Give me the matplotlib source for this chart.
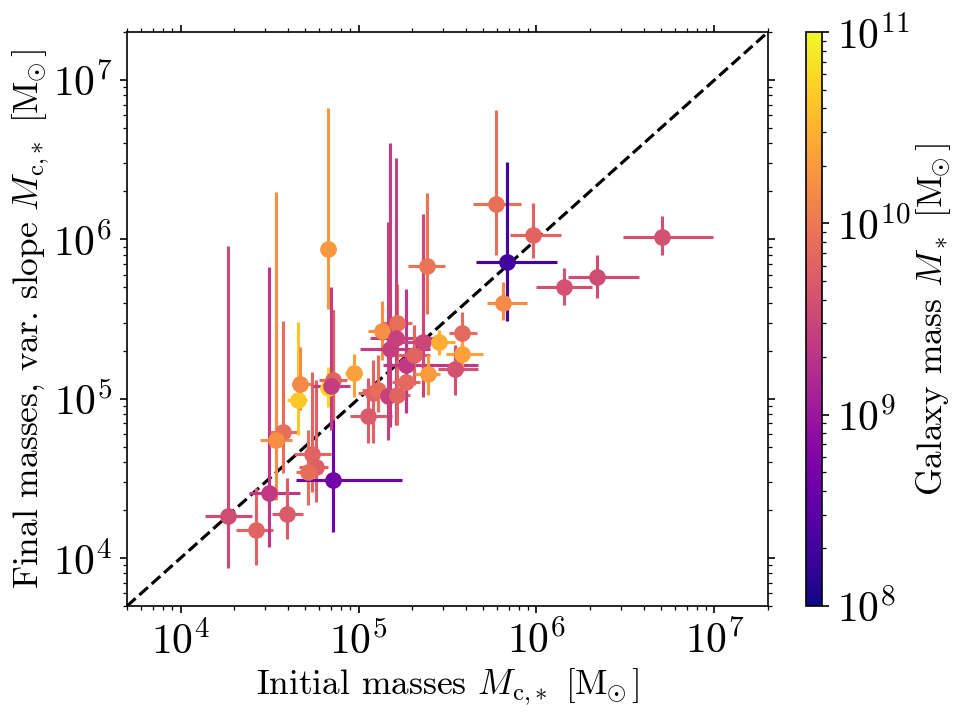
import numpy as np
import matplotlib
matplotlib.use("Agg")
import matplotlib.pyplot as plt
from matplotlib.colors import LogNorm
from matplotlib.cm import ScalarMappable
from matplotlib.ticker import LogLocator

plt.rcParams.update({
    "font.family": "serif",
    "font.serif": ["cmr10"],
    "mathtext.fontset": "cm",
    "axes.formatter.use_mathtext": True,
    "font.size": 20,
})

# Initial cluster masses (x) with lower / upper bounds
m_init = [1.84e4, 2.65e4, 3.15e4, 3.94e4, 3.77e4, 3.44e4, 4.54e4, 4.69e4, 5.5e4, 5.74e4,
          5.22e4, 7.21e4, 6.76e4, 6.78e4, 7.15e4, 7.0e4, 9.42e4, 1.13e5, 1.21e5, 1.29e5,
          1.35e5, 1.65e5, 1.5e5, 1.62e5, 1.46e5, 1.64e5, 1.86e5, 1.86e5, 2.05e5, 2.29e5,
          2.46e5, 2.43e5, 2.85e5, 3.83e5, 3.83e5, 3.48e5, 6.5e5, 5.89e5, 6.85e5, 9.58e5,
          1.43e6, 2.18e6, 5.08e6]
m_init_lo = [1.37e4, 2.04e4, 2.42e4, 3.25e4, 3.18e4, 2.79e4, 3.96e4, 4.21e4, 4.34e4, 4.63e4,
             4.45e4, 4.45e4, 6.15e4, 6.23e4, 6.0e4, 5.54e4, 8.39e4, 8.95e4, 9.93e4, 1.04e5,
             1.13e5, 1.37e5, 1.02e5, 1.16e5, 1.19e5, 1.35e5, 1.54e5, 1.37e5, 1.66e5, 1.71e5,
             2.07e5, 1.9e5, 2.36e5, 3.23e5, 3.1e5, 2.79e5, 5.28e5, 4.41e5, 4.57e5, 7.09e5,
             9.93e5, 1.51e6, 3.07e6]
m_init_hi = [2.51e4, 3.32e4, 4.69e4, 4.89e4, 4.57e4, 4.23e4, 5.13e4, 5.45e4, 7.0e4, 6.73e4,
             6.23e4, 1.76e5, 7.46e4, 7.46e4, 8.57e4, 8.95e4, 1.04e5, 1.54e5, 1.54e5, 1.6e5,
             1.6e5, 2.0e5, 2.52e5, 2.69e5, 1.82e5, 1.95e5, 2.21e5, 4.69e5, 2.52e5, 3.06e5,
             2.87e5, 3.08e5, 3.48e5, 4.61e5, 5.02e5, 4.69e5, 8.8e5, 8.14e5, 1.3e6, 1.38e6,
             2.05e6, 3.78e6, 9.84e6]

# Final cluster masses, variable slope (y) with lower / upper bounds
m_final = [1.84e4, 1.5e4, 2.57e4, 1.89e4, 6.15e4, 5.5e4, 9.8e4, 1.23e5, 4.49e4, 3.74e4,
           3.46e4, 3.09e4, 8.68e5, 1.16e5, 1.31e5, 1.2e5, 1.44e5, 7.78e4, 1.08e5, 1.13e5,
           2.65e5, 2.97e5, 2.04e5, 2.4e5, 1.04e5, 1.05e5, 1.28e5, 1.63e5, 1.88e5, 2.28e5,
           1.43e5, 6.79e5, 2.26e5, 2.6e5, 1.9e5, 1.53e5, 3.96e5, 1.66e6, 7.16e5, 1.06e6,
           5.04e5, 5.77e5, 1.04e6]
m_final_lo = [8.65e3, 9.04e3, 1.17e4, 1.31e4, 3.41e4, 2.31e4, 5.91e4, 8.48e4, 2.61e4, 2.25e4,
              2.15e4, 1.45e4, 3.63e5, 8.9e4, 7.34e4, 6.35e4, 1.03e5, 5.27e4, 5.24e4, 8.24e4,
              1.75e5, 1.75e5, 6.64e4, 6.83e4, 5.5e4, 6.83e4, 8.48e4, 8.16e4, 1.22e5, 1.03e5,
              1.05e5, 3.39e5, 1.88e5, 1.88e5, 1.47e5, 1.05e5, 3.11e5, 7.93e5, 3.08e5, 7.59e5,
              3.86e5, 4.3e5, 7.96e5]
m_final_hi = [9.1e5, 2.75e4, 6.72e5, 3.19e4, 3.08e5, 1.97e6, 3.05e5, 2.12e5, 1.47e5, 1.31e5,
              6.35e4, 3.6e5, 6.63e6, 1.59e5, 3.6e5, 5.01e5, 1.9e5, 1.35e5, 1.75e5, 1.88e5,
              4.11e5, 5.24e5, 4.03e6, 3.22e6, 1.29e6, 1.75e5, 2.02e5, 4.87e5, 2.9e5, 1.44e6,
              1.88e5, 1.94e6, 2.69e5, 3.51e5, 2.33e5, 2.17e5, 5.37e5, 6.53e6, 3.04e6, 1.69e6,
              6.63e5, 7.96e5, 1.4e6]

# log10 of host galaxy stellar mass (colour)
log_gal_mass = [9.55, 9.8, 9.35, 9.7, 9.9, 10.2, 10.65, 10.15, 9.8, 9.75,
                9.9, 8.66, 10.28, 10.75, 9.8, 9.4, 10.35, 9.7, 9.8, 9.9,
                10.2, 9.9, 9.4, 9.45, 9.45, 9.8, 9.85, 9.35, 9.8, 9.5,
                10.3, 9.95, 10.45, 9.85, 10.35, 9.6, 10.16, 9.92, 8.3, 9.8,
                9.6, 9.55, 9.6]

lims = (5e3, 2e7)
label_size = 17

fig = plt.figure(figsize=(6.4, 4.8), dpi=150)
ax = fig.add_axes([0.1323, 0.1583, 0.6677, 0.7972])
cax = fig.add_axes([0.8396, 0.1583, 0.0167, 0.7972])

cmap = plt.get_cmap("plasma")
norm = LogNorm(1e8, 1e11)

ax.plot(lims, lims, color="black", ls="--", lw=1.5, zorder=1)

for x, xl, xh, y, yl, yh, c in zip(m_init, m_init_lo, m_init_hi, m_final, m_final_lo,
                                   m_final_hi, log_gal_mass):
    col = cmap(norm(10 ** c))
    ax.errorbar([x], [y], xerr=[[x - xl], [xh - x]], yerr=[[y - yl], [yh - y]],
                fmt="o", color=col, ecolor=col, ms=7, elinewidth=1.5, capsize=0,
                zorder=2)

ax.set_xscale("log")
ax.set_yscale("log")
ax.set_xlim(*lims)
ax.set_ylim(*lims)
ax.tick_params(which="both", top=True, right=True)
unit = r"[$\mathrm{M}_{\!\!\odot}$]"
ax.set_xlabel(r"Initial masses $M_{\mathrm{c}{,}*}$ " + unit, fontsize=label_size,
              labelpad=2)
ax.set_ylabel(r"Final masses, var. slope $M_{\mathrm{c}{,}*}$ " + unit,
              fontsize=label_size, labelpad=1)

sm = ScalarMappable(norm=norm, cmap=cmap)
sm.set_array([])
cb = fig.colorbar(sm, cax=cax)
cb.set_ticks([1e8, 1e9, 1e10, 1e11])
cb.ax.yaxis.set_minor_locator(LogLocator(base=10, subs=np.arange(2, 10)))
cb.set_label(r"Galaxy mass $M_*$ " + unit, fontsize=label_size, labelpad=2)

fig.savefig("out.png", dpi=150)
